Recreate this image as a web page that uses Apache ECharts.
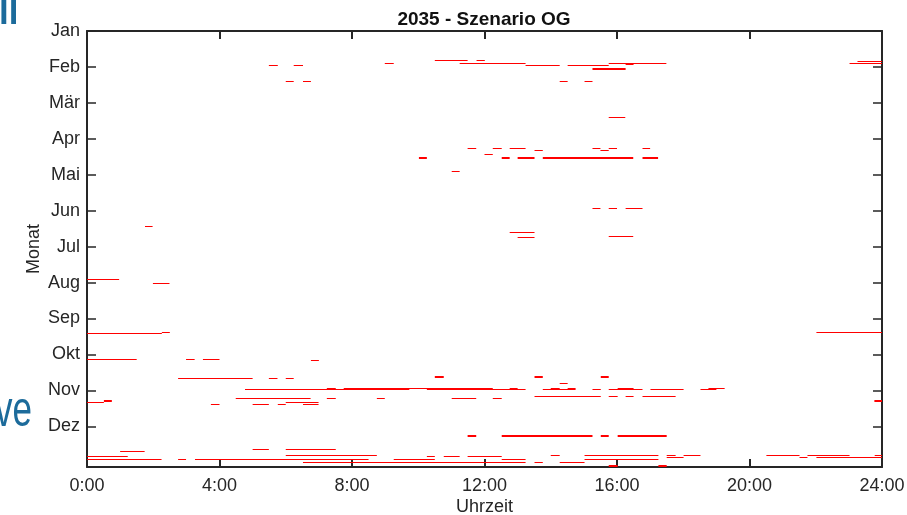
<!DOCTYPE html>
<html>
<head>
<meta charset="utf-8">
<script src="https://cdn.jsdelivr.net/npm/echarts@6/dist/echarts.min.js"></script>
<style>
html,body{margin:0;padding:0;background:#fff;}
#chart{width:907px;height:515px;}
</style>
</head>
<body>
<div id="chart"></div>
<script>
// Month tick labels (ticks every 30 days, Jan at top)
const monthLabels = ['Jan','Feb','Mär','Apr','Mai','Jun','Jul','Aug','Sep','Okt','Nov','Dez'];
const monthTickDays = [0,30,60,90,120,150,180,210,240,270,300,330];
const hourTicks = [0,4,8,12,16,20,24];

// Segments: [day of year, start hour, end hour, number of days]
const segJanFeb = [
  [24,10.50,11.49,1],[24,11.76,12.01,1],
  [25,23.26,24,1],
  [27,8.99,9.26,1],[27,11.25,13.24,1],[27,15.75,17.49,1],[27,23.02,24,1],
  [28,5.49,5.76,1],[28,6.24,6.52,1],[28,13.24,14.27,1],[28,14.51,15.75,1],
  [27,16.26,16.5,2],
  [31,15.26,16.26,2],
  [42,6.0,6.24,1],[42,6.52,6.76,1],[42,14.27,14.51,1],[42,15.02,15.26,1]
];
const segMarApr = [
  [72,15.75,16.25,1],
  [98,11.49,11.75,1],[98,12.25,12.52,1],[98,12.76,13.24,1],[98,15.26,15.5,1],[98,15.75,16.0,1],[98,16.77,17.0,1],
  [99,13.51,13.76,1],[99,15.5,15.75,1],
  [103,12.0,12.25,1],
  [105,10.02,10.26,2],[105,12.52,12.76,2],[105,13.0,13.51,2],[105,13.76,16.49,2],[105,16.77,17.24,2],
  [117,11.01,11.25,1]
];
const segMaiAug = [
  [148,15.26,15.5,1],[148,15.75,16.0,1],[148,16.26,16.77,1],
  [163,1.75,1.98,1],
  [168,12.76,13.51,1],
  [171,15.75,16.49,1],
  [172,13.0,13.51,1],
  [207,0,0.97,1],
  [210,1.99,2.49,1]
];
const segSepOkt = [
  [251,2.26,2.5,1],[251,22.02,24,1],
  [252,0,2.26,1],
  [274,0,1.5,1],[274,2.99,3.25,1],[274,3.5,4.0,1],
  [275,6.76,7.0,1]
];
const segNov = [
  [288,10.5,10.77,2],[288,13.51,13.76,2],[288,15.51,15.75,2],
  [290,2.75,5.0,1],[290,5.49,5.75,1],[290,6.0,6.24,1],
  [294,14.27,14.51,1],
  [298,7.24,7.51,1],[298,7.75,12.25,1],[298,12.76,13.0,1],[298,14.0,14.27,1],[298,14.51,14.75,1],[298,16.02,16.5,1],[298,18.76,19.25,1],
  [299,4.77,9.73,1],[299,10.26,13.24,1],[299,13.76,14.75,1],[299,15.26,15.51,1],[299,15.75,16.77,1],[299,17.01,18.01,1],[299,18.52,19.0,1],
  [305,13.51,15.51,1],[305,15.75,16.02,1],[305,16.26,16.5,1],[305,16.77,17.77,1],
  [306,4.49,6.75,1],[306,7.24,7.51,1],[306,8.75,8.99,1],[306,11.01,11.75,1],[306,12.25,12.52,1],
  [308,0.51,0.75,2],[308,23.77,24,2],
  [310,0,0.51,1],[310,6.0,6.99,1],
  [311,3.74,4.0,1],[311,5.0,5.49,1],[311,5.76,6.0,1],[311,6.52,6.99,1]
];
const segDez = [
  [337,11.49,11.75,2],[337,12.52,15.26,2],[337,15.51,15.75,2],[337,16.02,17.50,2],
  [349,5.0,5.49,1],[349,6.0,7.51,1],
  [351,1.0,1.74,1],
  [354,6.0,8.75,1],[354,14.0,14.27,1],[354,15.02,17.25,1],[354,17.50,17.77,1],[354,18.01,18.52,1],[354,20.51,21.51,1],[354,21.75,23.02,1],[354,23.78,24,1],
  [355,0,1.23,1],[355,10.26,10.5,1],[355,10.77,11.25,1],[355,11.49,12.52,1],
  [356,17.50,18.01,1],[356,21.51,21.75,1],[356,22.02,24,1],
  [357,0,2.25,1],[357,2.75,2.99,1],[357,3.26,8.5,1],[357,9.26,10.5,1],[357,12.52,13.24,1],[357,15.02,17.25,1],
  [360,6.52,13.24,1],[360,13.51,13.76,1],[360,14.27,15.02,1],
  [362,15.75,16.02,2],[362,17.25,17.50,2]
];

const allSegments = [].concat(segJanFeb, segMarApr, segMaiAug, segSepOkt, segNov, segDez);

const TXT = '#262626';
const FONT = 'Liberation Sans';

const chart = echarts.init(document.getElementById('chart'), null, {renderer: 'canvas'});

function xAxisCfg(pos, show) {
  return {
    type: 'value', position: pos, min: 0, max: 24, interval: 4,
    axisLine: {show: true, onZero: false, lineStyle: {color: TXT, width: 2}},
    axisTick: {show: true, inside: true, length: 8, lineStyle: {color: TXT, width: 2}},
    axisLabel: {show: show, margin: 10, color: TXT, fontSize: 18, fontFamily: FONT,
      formatter: v => v + ':00'},
    splitLine: {show: false},
    name: show ? 'Uhrzeit' : '', nameLocation: 'middle', nameGap: 31, nameMoveOverlap: false,
    nameTextStyle: {color: TXT, fontSize: 18, fontFamily: FONT}
  };
}
function yAxisCfg(pos, show) {
  return {
    type: 'value', position: pos, min: 0, max: 364, interval: 30, inverse: true,
    axisLine: {show: true, onZero: false, lineStyle: {color: TXT, width: 2}},
    axisTick: {show: true, inside: true, length: 9, customValues: monthTickDays,
      lineStyle: {color: TXT, width: 1.5}},
    axisLabel: {show: show, margin: 7, color: TXT, fontSize: 18, fontFamily: FONT,
      customValues: monthTickDays,
      formatter: v => { const i = Math.round(v / 30); return monthLabels[i] || ''; }},
    splitLine: {show: false},
    name: show ? 'Monat' : '', nameLocation: 'middle', nameGap: 44, nameRotate: 90, nameMoveOverlap: false,
    nameTextStyle: {color: TXT, fontSize: 18, fontFamily: FONT}
  };
}

chart.setOption({
  animation: false,
  backgroundColor: '#ffffff',
  title: {
    text: '2035 - Szenario OG', left: 479, top: 5, textAlign: 'center',
    textStyle: {color: '#111', fontSize: 19, fontWeight: 'bold', fontFamily: FONT}
  },
  grid: {left: 87, right: 25, top: 31, bottom: 48, containLabel: false, outerBoundsMode: 'none'},
  xAxis: [xAxisCfg('bottom', true), xAxisCfg('top', false)],
  yAxis: [yAxisCfg('left', true), yAxisCfg('right', false)],
  graphic: [
    {type: 'text', x: -1, y: 35, scaleX: 0.7,
     style: {text: 'll', fontSize: 50, fontFamily: FONT, fontWeight: 'bold', fill: '#1c6b9b', verticalAlign: 'bottom'}},
    {type: 'text', x: -5, y: 437, scaleX: 0.7,
     style: {text: 've', fontSize: 50, fontFamily: FONT, fill: '#1c6b9b', verticalAlign: 'bottom'}}
  ],
  series: [{
    type: 'custom',
    xAxisIndex: 0, yAxisIndex: 0,
    clip: true,
    data: allSegments,
    encode: {x: [1, 2], y: 0},
    renderItem: function (params, api) {
      const d = api.value(0), h0 = api.value(1), h1 = api.value(2), n = api.value(3);
      const p0 = api.coord([h0, d]);
      const p1 = api.coord([h1, d + n]);
      const y0 = Math.round(p0[1]);
      const h = Math.max(1, Math.floor(p1[1] - p0[1]));
      return {
        type: 'rect',
        shape: {x: p0[0], y: y0, width: p1[0] - p0[0], height: h},
        style: {fill: '#ff0000'}
      };
    }
  }]
});
</script>
</body>
</html>
